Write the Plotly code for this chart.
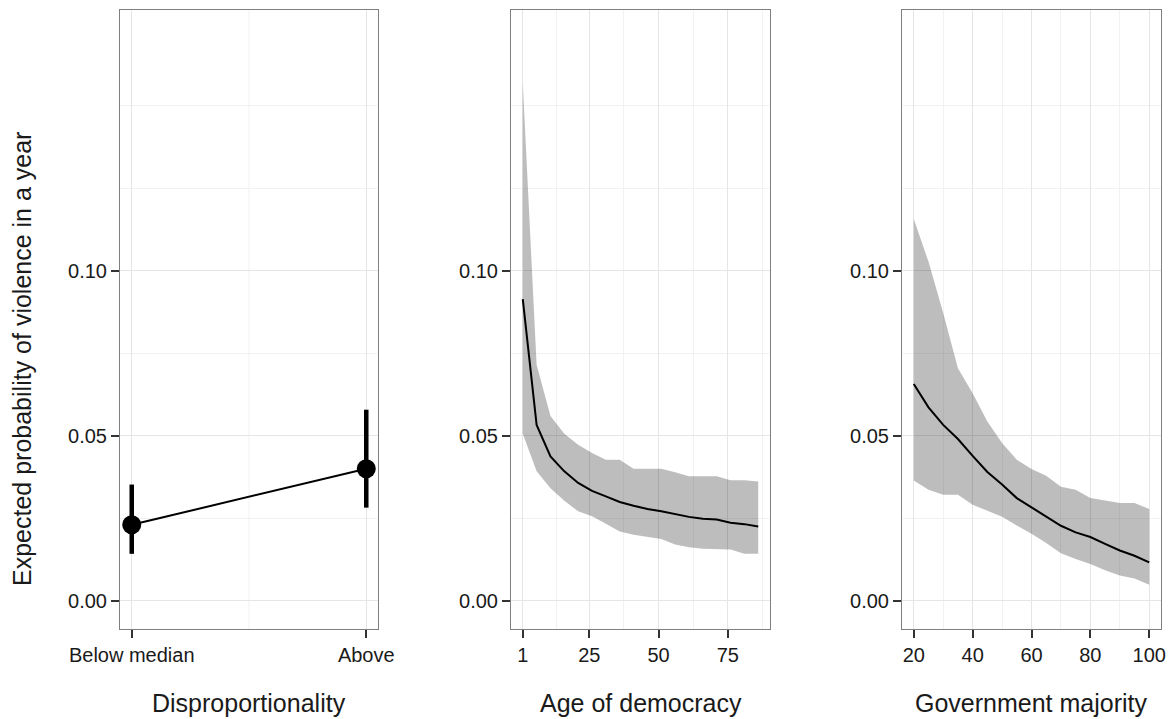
import plotly.graph_objects as go

# ---- data ----
dispro_categories = ["Below median", "Above"]
dispro_est = [0.023, 0.040]
dispro_low = [0.0142, 0.0282]
dispro_high = [0.0352, 0.0579]

age_x = [1, 6, 11, 16, 21, 26, 31, 36, 41, 46, 51, 56, 61, 66, 71, 76, 81, 86]
age_est = [0.0914, 0.0533, 0.0437, 0.0392, 0.0357, 0.0333, 0.0316, 0.0299, 0.0288,
           0.0278, 0.0271, 0.0262, 0.0254, 0.0248, 0.0246, 0.0236, 0.0232, 0.0225]
age_high = [0.157, 0.0715, 0.056, 0.0506, 0.0473, 0.0448, 0.0427, 0.0427, 0.040,
            0.040, 0.040, 0.0389, 0.0377, 0.0377, 0.0377, 0.0365, 0.0365, 0.0361]
age_low = [0.0506, 0.0392, 0.0341, 0.0303, 0.0271, 0.0256, 0.0233, 0.021, 0.020,
           0.0193, 0.0187, 0.017, 0.0162, 0.0157, 0.0157, 0.0155, 0.0142, 0.0142]

maj_x = [20, 25, 30, 35, 40, 45, 50, 55, 60, 65, 70, 75, 80, 85, 90, 95, 100]
maj_est = [0.0657, 0.0586, 0.0533, 0.049, 0.0439, 0.039, 0.0352, 0.0311, 0.0283,
           0.0254, 0.0227, 0.0207, 0.0193, 0.0172, 0.0152, 0.0136, 0.0116]
maj_high = [0.1157, 0.1028, 0.0872, 0.0705, 0.0629, 0.0543, 0.0478, 0.0427, 0.0399,
            0.0379, 0.0345, 0.0336, 0.0311, 0.0303, 0.0296, 0.0296, 0.0278]
maj_low = [0.0364, 0.0336, 0.0321, 0.0321, 0.0291, 0.0273, 0.0254, 0.0228, 0.0203,
           0.0175, 0.0144, 0.0126, 0.0111, 0.0092, 0.0076, 0.0067, 0.0048]

y_ticks = [0.0, 0.05, 0.10]
y_ticklabels = ["0.00", "0.05", "0.10"]
y_minor = [0.025, 0.075, 0.125, 0.15]
age_ticks = [1, 25, 50, 75]
age_minor = [13, 37.5, 62.5, 87.5]
maj_ticks = [20, 40, 60, 80, 100]
maj_minor = [30, 50, 70, 90]

x_titles = ["Disproportionality", "Age of democracy", "Government majority"]
y_title = "Expected probability of violence in a year"

# ---- style ----
W, H = 1171, 719
FONT = "Liberation Sans, Arial, Helvetica, sans-serif"
TXT = "#1a1a1a"
GRID = "#E5E5E5"
GRID_MINOR = "#F2F2F2"
BORDER = "#7F7F7F"
BAND = "rgba(0,0,0,0.26)"

def px_x(p):
    return p / W

def px_y(p):
    return 1 - p / H

dom_x = [(px_x(120), px_x(378)), (px_x(511), px_x(770)), (px_x(902), px_x(1161))]
dom_y = (px_y(629), px_y(10))
y_range = [-0.0086, 0.1791]

fig = go.Figure()

# Panel 1
fig.add_trace(go.Scatter(
    x=dispro_categories, y=dispro_est, mode="lines+markers",
    line=dict(color="black", width=2),
    marker=dict(color="black", size=19),
    error_y=dict(type="data", symmetric=False,
                 array=[h - e for h, e in zip(dispro_high, dispro_est)],
                 arrayminus=[e - l for e, l in zip(dispro_est, dispro_low)],
                 thickness=4.5, width=0, color="black"),
    xaxis="x", yaxis="y", showlegend=False))

# Panel 2
fig.add_trace(go.Scatter(x=age_x, y=age_high, mode="lines", line=dict(width=0),
                         xaxis="x2", yaxis="y2", showlegend=False, hoverinfo="skip"))
fig.add_trace(go.Scatter(x=age_x, y=age_low, mode="lines", line=dict(width=0),
                         fill="tonexty", fillcolor=BAND,
                         xaxis="x2", yaxis="y2", showlegend=False, hoverinfo="skip"))
fig.add_trace(go.Scatter(x=age_x, y=age_est, mode="lines", line=dict(color="black", width=2),
                         xaxis="x2", yaxis="y2", showlegend=False))

# Panel 3
fig.add_trace(go.Scatter(x=maj_x, y=maj_high, mode="lines", line=dict(width=0),
                         xaxis="x3", yaxis="y3", showlegend=False, hoverinfo="skip"))
fig.add_trace(go.Scatter(x=maj_x, y=maj_low, mode="lines", line=dict(width=0),
                         fill="tonexty", fillcolor=BAND,
                         xaxis="x3", yaxis="y3", showlegend=False, hoverinfo="skip"))
fig.add_trace(go.Scatter(x=maj_x, y=maj_est, mode="lines", line=dict(color="black", width=2),
                         xaxis="x3", yaxis="y3", showlegend=False))

common = dict(showline=True, linecolor=BORDER, linewidth=1, mirror=True,
              ticks="outside", ticklen=8, tickwidth=1.6, tickcolor="#333333",
              tickfont=dict(family=FONT, size=20, color=TXT),
              showgrid=True, gridcolor=GRID, gridwidth=1, zeroline=False,
              automargin=False, ticklabeloverflow="allow")

def yaxis(anchor):
    return dict(common, domain=list(dom_y), range=y_range, anchor=anchor,
                tickmode="array", tickvals=y_ticks, ticktext=y_ticklabels,
                minor=dict(tickvals=y_minor, showgrid=True, gridcolor=GRID_MINOR,
                           gridwidth=1, ticks=""))

layout = dict(
    width=W, height=H, autosize=False,
    margin=dict(l=0, r=0, t=0, b=0, pad=0),
    paper_bgcolor="white", plot_bgcolor="white",
    font=dict(family=FONT, color=TXT),
    xaxis=dict(common, domain=list(dom_x[0]), anchor="y", type="category",
               range=[-0.05, 1.05]),
    yaxis=yaxis("x"),
    xaxis2=dict(common, domain=list(dom_x[1]), anchor="y2", range=[-3.25, 90.25],
                tickmode="array", tickvals=age_ticks,
                minor=dict(tickvals=age_minor, showgrid=True, gridcolor=GRID_MINOR,
                           gridwidth=1, ticks="")),
    yaxis2=yaxis("x2"),
    xaxis3=dict(common, domain=list(dom_x[2]), anchor="y3", range=[16, 104],
                tickmode="array", tickvals=maj_ticks,
                minor=dict(tickvals=maj_minor, showgrid=True, gridcolor=GRID_MINOR,
                           gridwidth=1, ticks="")),
    yaxis3=yaxis("x3"),
)
fig.update_layout(**layout)

# minor vertical gridline between the two categories in panel 1
fig.add_shape(type="line", xref="x", yref="y domain", x0=0.5, x1=0.5, y0=0, y1=1,
              line=dict(color=GRID_MINOR, width=1), layer="below")

# axis titles
for (d0, d1), t in zip(dom_x, x_titles):
    fig.add_annotation(text=t, xref="paper", yref="paper", x=(d0 + d1) / 2,
                       y=px_y(703), xanchor="center", yanchor="middle",
                       showarrow=False, font=dict(family=FONT, size=25, color=TXT))
fig.add_annotation(text=y_title, xref="paper", yref="paper", x=px_x(22), y=px_y(359),
                   xanchor="center", yanchor="middle", textangle=-90, showarrow=False,
                   font=dict(family=FONT, size=25, color=TXT))

fig.write_html("out.html",
               config={"displayModeBar": False},
               post_script="document.body.style.margin='0';"
                           "document.body.style.overflow='hidden';")
